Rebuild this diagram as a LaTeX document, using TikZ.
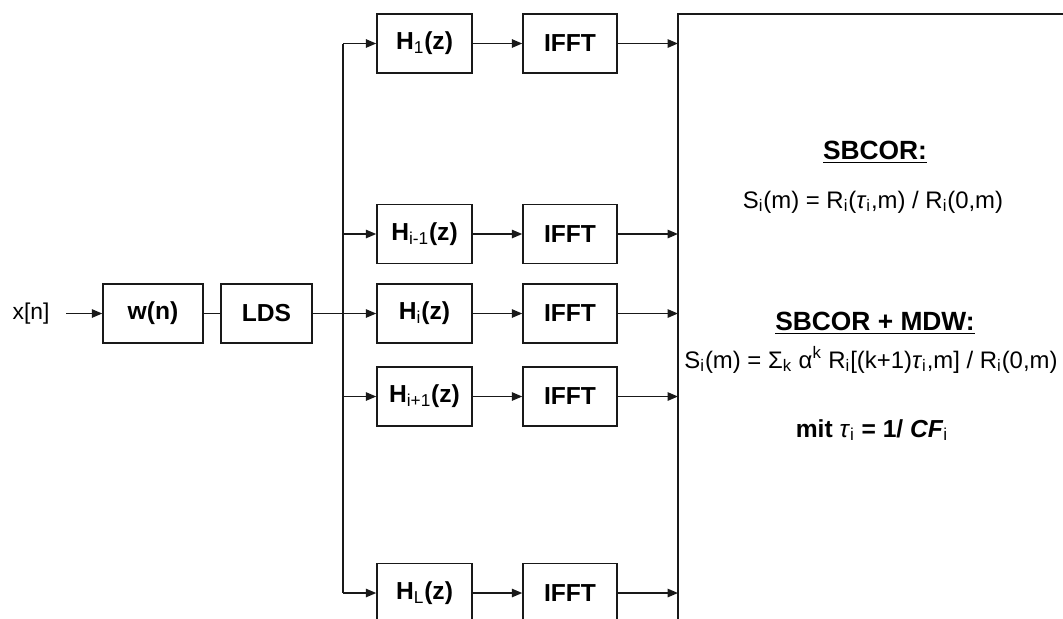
\documentclass[tikz,border=0pt]{standalone}
\usepackage{fontspec}
\setmainfont{Liberation Sans}
\usetikzlibrary{arrows.meta, positioning, calc}
\definecolor{linedark}{RGB}{25, 25, 25}

\begin{document}
\begin{tikzpicture}[
    block/.style={draw=linedark, line width=0.85pt, minimum width=1.9cm, minimum height=1.18cm, inner sep=0pt, font=\fontsize{14}{16}\selectfont\bfseries},
    sig/.style={draw=linedark, line width=0.85pt},
    sigarrow/.style={sig, -{Triangle[length=2.1mm, width=1.7mm]}},
    formula/.style={font=\fontsize{13.6}{16}\selectfont},
    heading/.style={font=\fontsize{15}{17}\selectfont\bfseries}
  ]
    \useasboundingbox (0,0) rectangle (21.26,-12.38);

    % Input chain
    \node (xin) at (0.62,-6.27) [font=\fontsize{13}{15}\selectfont] {x[n]};
    \coordinate (xstart) at (1.32,-6.27);
    \node (win) at (3.06,-6.27) [block, minimum width=2cm] {w(n)};
    \node (lds) at (5.33,-6.27) [block, minimum width=1.82cm] {LDS};
    \draw[sigarrow] (xstart) -- (win);
    \draw[sig] (win) -- (lds);

    % Filter bank rows
    \foreach \name/\lab/\y in {one/1/-0.87, im/i-1/-4.68, i/i/-6.27, ip/i+1/-7.93, L/L/-11.86} {
        \node (h\name) at (8.49,\y) [block] {H\textsubscript{\mdseries\lab}(z)};
        \node (f\name) at (11.4,\y) [block, minimum width=1.88cm] {IFFT};
        \coordinate (b\name) at (6.86,\y);
        \coordinate (s\name) at (13.56,\y);
        \draw[sigarrow] (b\name) -- (h\name);
        \draw[sigarrow] (h\name) -- (f\name);
        \draw[sigarrow] (f\name) -- (s\name);
    }

    % Bus
    \draw[sig] (bone) -- (bL);
    \draw[sig] (lds) -- (bi);

    % Evaluation block (runs off the page)
    \draw[sig] (21.26,-0.28) -- (13.56,-0.28) -- (13.56,-12.38);

    % Formulas
    \node (sbcor) at (17.5,-3.04) [heading] {\underline{SBCOR:}};
    \node (eqone) at (17.46,-4.04) [formula] {S\textsubscript{i}(m) = R\textsubscript{i}(\textit{τ}\textsubscript{i},m) / R\textsubscript{i}(0,m)};
    \node (mdw) at (17.5,-6.46) [heading] {\underline{SBCOR + MDW:}};
    \node (eqtwo) at (17.42,-7.2) [formula] {S\textsubscript{i}(m) = Σ\textsubscript{k} α\textsuperscript{k} R\textsubscript{i}[(k+1)\textit{τ}\textsubscript{i},m] / R\textsubscript{i}(0,m)};
    \node (mit) at (17.44,-8.6) [heading, font=\fontsize{14}{16}\selectfont\bfseries] {mit \textit{\mdseries τ}\textsubscript{\mdseries i} = 1/ \textit{CF}\textsubscript{\mdseries i}};
\end{tikzpicture}
\end{document}
